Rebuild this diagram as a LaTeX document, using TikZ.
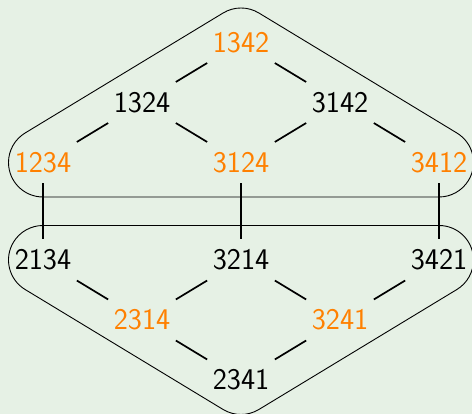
\documentclass[tikz,border=0pt]{standalone}
\usepackage{fontspec}
\usetikzlibrary{calc}
\definecolor{bgmint}{RGB}{230,241,229}
\definecolor{permorange}{RGB}{255,128,0}
\begin{document}
\begin{tikzpicture}[x=1pt,y=1pt,
  perm/.style={font=\sffamily\fontsize{30}{36}\selectfont, inner sep=10pt},
  hi/.style={perm, text=permorange},
  cover/.style={line width=1.7pt},
  hull/.style={line width=0.9pt}]
\fill[bgmint] (0,0) rectangle (472,414);
\useasboundingbox (0,0) rectangle (472,414);

% upper class
\node[hi]   (n1342) at (241,371.5) {1342};
\node[perm] (n1324) at (142,311.5) {1324};
\node[perm] (n3142) at (340,311.5) {3142};
\node[hi]   (n1234) at (43,251.5)  {1234};
\node[hi]   (n3124) at (241,251.5) {3124};
\node[hi]   (n3412) at (439,251.5) {3412};

% lower class
\node[perm] (n2134) at (43,154)  {2134};
\node[perm] (n3214) at (241,154) {3214};
\node[perm] (n3421) at (439,154) {3421};
\node[hi]   (n2314) at (142,94)  {2314};
\node[hi]   (n3241) at (340,94)  {3241};
\node[perm] (n2341) at (241,34)  {2341};

% cover relations
\draw[cover] (n1342) -- (n1324);
\draw[cover] (n1342) -- (n3142);
\draw[cover] (n1324) -- (n1234);
\draw[cover] (n1324) -- (n3124);
\draw[cover] (n3142) -- (n3124);
\draw[cover] (n3142) -- (n3412);
\draw[cover] (n2134) -- (n2314);
\draw[cover] (n3214) -- (n2314);
\draw[cover] (n3214) -- (n3241);
\draw[cover] (n3421) -- (n3241);
\draw[cover] (n2314) -- (n2341);
\draw[cover] (n3241) -- (n2341);
\draw[cover] (n1234) -- (n2134);
\draw[cover] (n3124) -- (n3214);
\draw[cover] (n3412) -- (n3421);

% rounded hulls around the two classes
\def\hr{34.5pt}
\draw[hull] ($(n1234)+(121.22:\hr)$) -- ($(n1342)+(121.22:\hr)$)
  arc[start angle=121.22, end angle=58.78, radius=\hr]
  -- ($(n3412)+(58.78:\hr)$)
  arc[start angle=58.78, end angle=-90, radius=\hr]
  -- ($(n1234)+(270:\hr)$)
  arc[start angle=270, end angle=121.22, radius=\hr] -- cycle;
\draw[hull] ($(n2134)+(90:\hr)$) -- ($(n3421)+(90:\hr)$)
  arc[start angle=90, end angle=-58.78, radius=\hr]
  -- ($(n2341)+(-58.78:\hr)$)
  arc[start angle=-58.78, end angle=-121.22, radius=\hr]
  -- ($(n2134)+(238.78:\hr)$)
  arc[start angle=238.78, end angle=90, radius=\hr] -- cycle;
\end{tikzpicture}
\end{document}
